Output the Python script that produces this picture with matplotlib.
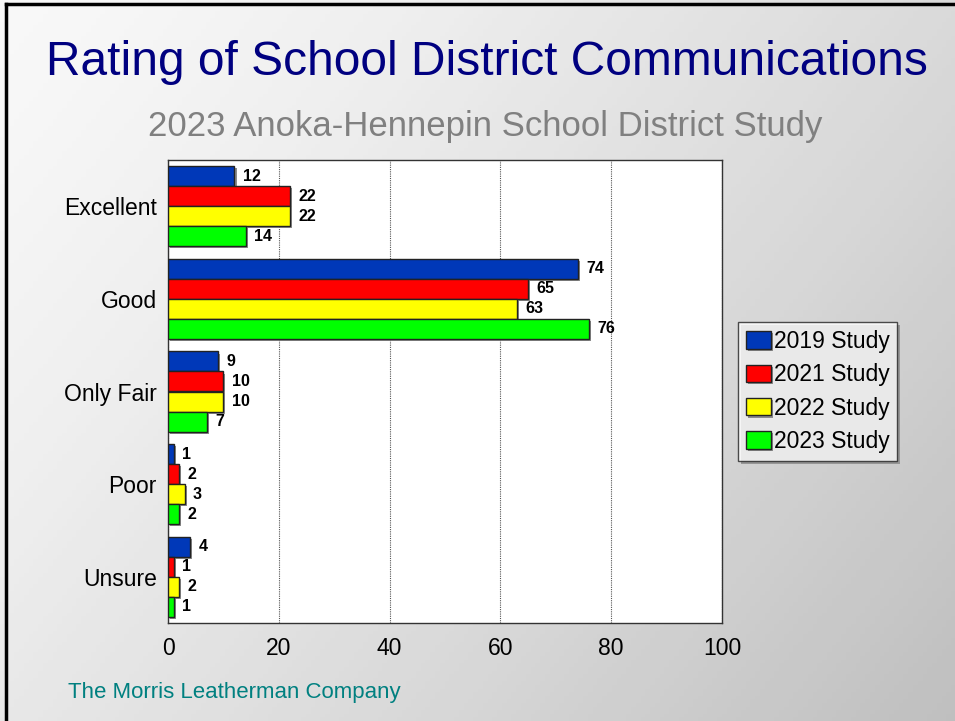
import numpy as np
import matplotlib.pyplot as plt
from matplotlib.lines import Line2D
import matplotlib.patheffects as pe

plt.rcParams['font.family'] = ['Liberation Sans', 'DejaVu Sans']

categories = ['Excellent', 'Good', 'Only Fair', 'Poor', 'Unsure']
series_names = ['2019 Study', '2021 Study', '2022 Study', '2023 Study']
values_2019 = [12, 74, 9, 1, 4]
values_2021 = [22, 65, 10, 2, 1]
values_2022 = [22, 63, 10, 3, 2]
values_2023 = [14, 76, 7, 2, 1]
colors = ['#0038b8', '#ff0000', '#ffff00', '#00ff00']

fig = plt.figure(figsize=(9.55, 7.21), dpi=100)

# slide background: light top-left fading to gray bottom-right
bg = fig.add_axes([0, 0, 1, 1], zorder=-10)
gx, gy = np.meshgrid(np.linspace(0, 1, 200), np.linspace(0, 1, 200))
shade = 0.62 * gx + 0.38 * gy
bg.imshow(shade, cmap='Greys', vmin=-0.15, vmax=3.0, aspect='auto',
          extent=[0, 1, 0, 1], origin='upper')
bg.set_xlim(0, 1)
bg.set_ylim(0, 1)
bg.axis('off')

# black frame on top and left
fig.add_artist(Line2D([0.0068, 0.0068], [0, 0.9945], color='black', lw=2.5,
                      transform=fig.transFigure))
fig.add_artist(Line2D([0.0068, 1], [0.9945, 0.9945], color='black', lw=2.5,
                      transform=fig.transFigure))

fig.text(0.510, 0.914, 'Rating of School District Communications',
         ha='center', va='center', fontsize=34.5, color='#000080')
fig.text(0.508, 0.825, '2023 Anoka-Hennepin School District Study',
         ha='center', va='center', fontsize=25, color='#808080')
fig.text(0.071, 0.040, 'The Morris Leatherman Company',
         ha='left', va='center', fontsize=16, color='#008080')

ax = fig.add_axes([168 / 955, 1 - 623 / 721, (722 - 168) / 955, (623 - 160) / 721])
ax.set_facecolor('white')

all_values = [values_2019, values_2021, values_2022, values_2023]
y = np.arange(len(categories))
h = 0.216
shadow = [pe.SimplePatchShadow(offset=(1.5, -1.5), shadow_rgbFace='#808080', alpha=0.9),
          pe.Normal()]
for i, (vals, col, name) in enumerate(zip(all_values, colors, series_names)):
    pos = y - 1.5 * h + i * h
    bars = ax.barh(pos, vals, height=h, color=col, edgecolor='#222222',
                   linewidth=1.0, label=name, zorder=3)
    for b in bars:
        b.set_path_effects(shadow)
    for p, v in zip(pos, vals):
        ax.annotate(str(v), (v, p), xytext=(6, 0), textcoords='offset points',
                    ha='left', va='center', fontsize=11.5, fontweight='bold',
                    color='black', zorder=4)

ax.set_xlim(0, 100)
ax.set_ylim(len(categories) - 0.5, -0.5)
ax.set_xticks([0, 20, 40, 60, 80, 100])
ax.set_yticks(y)
ax.set_yticklabels(categories)
ax.tick_params(axis='both', length=0, labelsize=16.5, colors='black')
ax.tick_params(axis='x', pad=10)
ax.tick_params(axis='y', pad=8)
ax.grid(axis='x', color='#555555', linestyle=(0, (1, 1)), linewidth=0.8, zorder=1)
for s in ax.spines.values():
    s.set_color('#333333')
    s.set_linewidth(1.0)

leg = fig.legend(loc='upper left', bbox_to_anchor=(738 / 955, 1 - 322 / 721),
                 fontsize=16.5, frameon=True, fancybox=False, handlelength=1.1,
                 handleheight=0.8, handletextpad=0.1, borderpad=0.35,
                 labelspacing=0.45, borderaxespad=0)
leg.get_frame().set_edgecolor('#222222')
leg.get_frame().set_linewidth(1.0)
leg.get_frame().set_path_effects([pe.SimplePatchShadow(offset=(2, -2), shadow_rgbFace='#888888', alpha=0.8),
                                  pe.Normal()])

fig.savefig('out.png', dpi=100)
